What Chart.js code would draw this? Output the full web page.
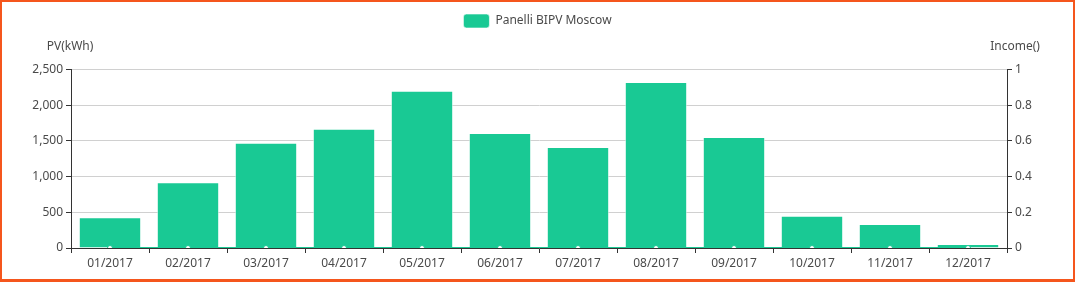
<!DOCTYPE html>
<html>
<head>
<meta charset="utf-8">
<script src="https://cdn.jsdelivr.net/npm/chart.js@4"></script>
<style>
  html, body { margin: 0; padding: 0; background: #fff; }
  #wrap { position: absolute; left: 0; top: 0; width: 1075px; height: 282px; box-sizing: border-box; border: 2px solid #f5561d; border-bottom-width: 3px; }
  #chart { display: block; }
</style>
</head>
<body>
<div id="wrap"><canvas id="chart" width="1071" height="277"></canvas></div>
<script>
const months = ['01/2017', '02/2017', '03/2017', '04/2017', '05/2017', '06/2017', '07/2017', '08/2017', '09/2017', '10/2017', '11/2017', '12/2017']
const pvValues = [430, 920, 1475, 1670, 2200, 1610, 1415, 2325, 1555, 450, 335, 55]
const incomeValues = [0, 0, 0, 0, 0, 0, 0, 0, 0, 0, 0, 0]
const seriesName = 'Panelli BIPV Moscow'
const leftTitle = 'PV(kWh)'
const rightTitle = 'Income()'

const green = '#19c994'
const textColor = '#4a4a4a'
const fontFamily = '"Noto Sans", sans-serif'

// titoli degli assi sopra le colonne
const axisTitles = {
    id: 'axisTitles',
    afterDraw(chart) {
        const ctx = chart.ctx
        const area = chart.chartArea
        ctx.save()
        ctx.font = '12px ' + fontFamily
        ctx.fillStyle = textColor
        ctx.textAlign = 'center'
        ctx.textBaseline = 'middle'
        ctx.fillText(leftTitle, area.left - 1, area.top - 23)
        ctx.fillText(rightTitle, area.right + 8, area.top - 23)
        ctx.restore()
    }
}

const data = {
    labels: months,
    datasets: [
        {
            type: 'line',
            label: 'income',
            data: incomeValues,
            yAxisID: 'y1',
            borderColor: green,
            borderWidth: 2,
            pointRadius: 2.5,
            pointBackgroundColor: '#fff',
            pointBorderColor: green,
            pointBorderWidth: 1,
            order: 0
        },
        {
            type: 'bar',
            label: seriesName,
            data: pvValues,
            yAxisID: 'y',
            backgroundColor: green,
            borderColor: 'rgba(255,255,255,0.6)',
            borderWidth: 1,
            categoryPercentage: 1,
            barPercentage: 0.8,
            order: 1
        }
    ]
}

const config = {
    type: 'bar',
    data: data,
    plugins: [axisTitles],
    options: {
        responsive: false,
        animation: false,
        layout: { padding: { top: 2, bottom: 0, left: 0, right: 0 } },
        plugins: {
            legend: {
                position: 'top',
                labels: {
                    filter: item => item.text === seriesName,
                    boxWidth: 26,
                    boxHeight: 14,
                    useBorderRadius: true,
                    borderRadius: 3,
                    color: textColor,
                    font: { family: fontFamily, size: 12 },
                    padding: 10
                }
            },
            // spazio vuoto tra legenda e grafico
            title: {
                display: true,
                text: ' ',
                weight: 500,
                font: { size: 12 },
                padding: { top: 8, bottom: 9 }
            },
            tooltip: { enabled: false }
        },
        scales: {
            x: {
                grid: { offset: true, drawOnChartArea: false, tickLength: 5, tickColor: '#333' },
                border: { color: '#333' },
                ticks: { color: textColor, font: { family: fontFamily, size: 12 }, maxRotation: 0, padding: 3 },
                afterFit(scale) { scale.height = 31 }
            },
            y: {
                position: 'left',
                min: 0,
                max: 2500,
                ticks: { stepSize: 500, color: textColor, font: { family: fontFamily, size: 12 }, padding: 3 },
                grid: { color: '#d0d0d0', tickLength: 5, tickColor: '#333' },
                border: { color: '#333' },
                afterFit(scale) { scale.width = 69 }
            },
            y1: {
                position: 'right',
                min: 0,
                max: 1,
                ticks: {
                    stepSize: 0.2,
                    color: textColor,
                    font: { family: fontFamily, size: 12 },
                    padding: 3,
                    callback: value => String(Math.round(value * 10) / 10)
                },
                grid: { drawOnChartArea: false, tickLength: 5, tickColor: '#333' },
                border: { color: '#333' },
                afterFit(scale) { scale.width = 66 }
            }
        }
    }
}

new Chart(document.getElementById('chart').getContext('2d'), config)
</script>
</body>
</html>
